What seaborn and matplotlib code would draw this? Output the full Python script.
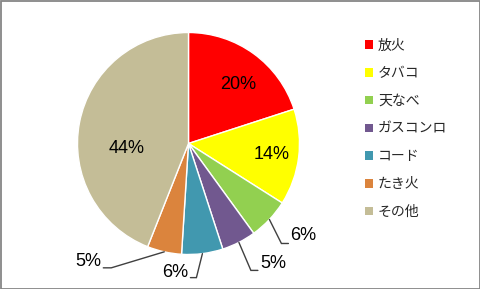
import numpy as np
import matplotlib
matplotlib.use("Agg")
import matplotlib.pyplot as plt
import seaborn as sns
from matplotlib.patches import Rectangle

sns.set_theme(style="white")
plt.rcParams['font.family'] = ['Liberation Sans', 'Noto Sans CJK JP', 'DejaVu Sans']

categories = ["放火", "タバコ", "天なべ", "ガスコンロ", "コード", "たき火", "その他"]
values = [20, 14, 6, 5, 6, 5, 44]
labels = ["20%", "14%", "6%", "5%", "6%", "5%", "44%"]
colors = ["#FF0000", "#FFFF00", "#92D050", "#71588F", "#4198AF", "#DB843D", "#C4BD97"]

W, H = 481, 289
fig = plt.figure(figsize=(W / 100, H / 100), dpi=100)
ax = fig.add_axes([0, 0, 1, 1])

cx, cy, r = 188.5, H - 143.5, 111
wedges, _ = ax.pie(values, colors=colors, startangle=90, counterclock=False,
                   center=(cx, cy), radius=r,
                   wedgeprops=dict(edgecolor="white", linewidth=1.0))
ax.set_xlim(0, W)
ax.set_ylim(0, H)
ax.set_aspect("auto")
ax.axis("off")

FS = 13
# inside labels: (radius fraction, angle shift in degrees)
inside = {0: (0.69, -4.0), 1: (0.76, -0.6), 6: (0.556, 15.8)}
# outside labels: (elbow dx, dy), horizontal length, side, text dy
outside = {
    2: ((12, -24), 7, "left", 7.5),
    3: ((12, -28), 7, "left", 6.5),
    4: ((-6, -24), -6, "right", 5.5),
    5: ((-53, -16), -8, "right", 6.5),
}
for i, w in enumerate(wedges):
    mid = (w.theta1 + w.theta2) / 2
    if i in inside:
        f, sh = inside[i]
        ang = np.deg2rad(mid + sh)
        ax.text(cx + f * r * np.cos(ang), cy + f * r * np.sin(ang), labels[i],
                ha="center", va="center", fontsize=FS, color="#000000")
    else:
        ang = np.deg2rad(mid)
        (dx, dy), hl, side, tdy = outside[i]
        sx = cx + r * np.cos(ang)
        sy = cy + r * np.sin(ang)
        ex, ey = sx + dx, sy + dy
        hx = ex + hl
        ax.plot([sx, ex, hx], [sy, ey, ey], color="#404040", lw=1.0,
                solid_joinstyle="miter")
        if side == "left":
            ax.text(hx + 2, ey + tdy, labels[i], ha="left", va="center",
                    fontsize=FS, color="#000000")
        else:
            ax.text(hx - 2, ey + tdy, labels[i], ha="right", va="center",
                    fontsize=FS, color="#000000")

# legend
handles = [Rectangle((0, 0), 1, 1, facecolor=c, edgecolor="none") for c in colors]
leg = fig.legend(handles, categories, loc="upper left",
                 bbox_to_anchor=(365 / W, 1 - 38.5 / H), frameon=False,
                 prop={"family": ["Noto Sans CJK JP", "DejaVu Sans"], "size": 10},
                 handlelength=0.58, handleheight=0.58, handletextpad=0.36,
                 labelspacing=0.99, borderaxespad=0, borderpad=0)

# chart border
fig.patches.append(Rectangle((0.5 / W, 0.5 / H), 1 - 1.5 / W, 1 - 1.5 / H,
                             transform=fig.transFigure, fill=False,
                             edgecolor="#868686", linewidth=1.3))

fig.savefig("out.png", dpi=100)
